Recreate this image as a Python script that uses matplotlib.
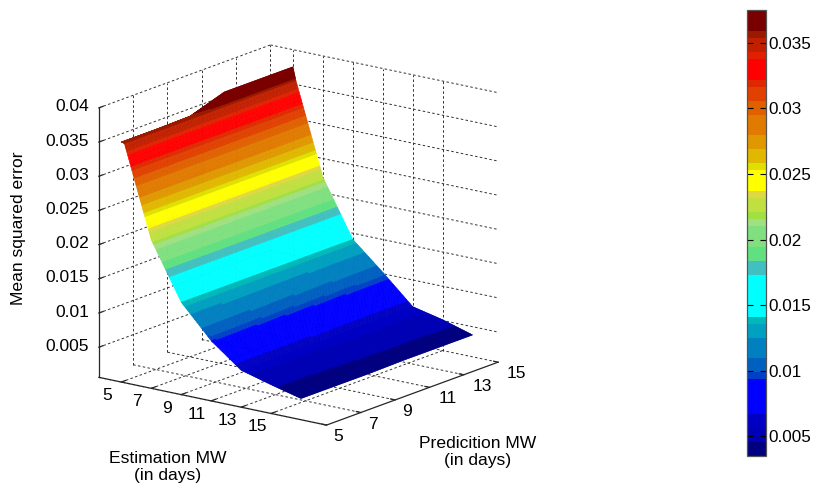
import numpy as np
import matplotlib
matplotlib.use("Agg")
import matplotlib.pyplot as plt
from matplotlib.cm import ScalarMappable
from matplotlib.colors import ListedColormap, Normalize
from mpl_toolkits.mplot3d import proj3d

plt.rcParams["font.family"] = ["Liberation Sans", "DejaVu Sans"]

# ---------------------------------------------------------------------------
# DATA
# ---------------------------------------------------------------------------
# 5.2 is an extra mesh row, the kink on the top edge only touches the first band
estimation_mw = [5, 5.2, 7, 9, 11, 13, 15, 17]
prediction_mw = [5, 7, 9, 11, 13, 15]

# one row per estimation window, one column per prediction window
mse = [
    [0.0357, 0.0357, 0.0358, 0.0375, 0.0375, 0.0375],
    [0.0356, 0.0356, 0.0356, 0.0356, 0.0356, 0.0356],
    [0.0223, 0.0223, 0.0223, 0.0223, 0.0223, 0.0223],
    [0.0141, 0.0141, 0.0141, 0.0141, 0.0141, 0.0141],
    [0.0094, 0.0095, 0.0097, 0.0099, 0.0101, 0.0102],
    [0.0060, 0.0060, 0.0060, 0.0061, 0.0061, 0.0061],
    [0.0048, 0.0048, 0.0049, 0.0050, 0.0050, 0.0051],
    [0.0037, 0.0037, 0.0037, 0.0038, 0.0038, 0.0038],
]

x_ticks = [5, 7, 9, 11, 13, 15]
y_ticks = [5, 7, 9, 11, 13, 15]
z_ticks = [0.005, 0.01, 0.015, 0.02, 0.025, 0.03, 0.035, 0.04]
z_tick_labels = ["0.005", "0.01", "0.015", "0.02", "0.025", "0.03", "0.035", "0.04"]
cbar_ticks = [0.005, 0.01, 0.015, 0.02, 0.025, 0.03, 0.035]
cbar_tick_labels = ["0.005", "0.01", "0.015", "0.02", "0.025", "0.03", "0.035"]

# colormap runs from the bottom of the colorbar up: (colour, number of entries of 64)
cmap_runs = [
    ("#000080", 2), ("#0000b4", 2), ("#0000c4", 2), ("#0000ff", 5), ("#0040c8", 1),
    ("#0060c0", 2), ("#0080c0", 3), ("#00a0c0", 2), ("#00b8b8", 1), ("#00ffff", 6),
    ("#40c0c0", 2), ("#60e080", 2), ("#80e080", 3), ("#a0e080", 1), ("#a0e040", 1),
    ("#c0e040", 2), ("#e0d840", 1), ("#ffff00", 3), ("#e0e000", 1), ("#e0b800", 2),
    ("#e09800", 2), ("#e07a00", 3), ("#e06000", 2), ("#e04000", 2), ("#e02800", 1),
    ("#ff0000", 3), ("#e02000", 1), ("#c02000", 2), ("#9a1a00", 1), ("#7a0000", 3),
]

X_LIM = (3.5, 18.7)
Y_LIM = (5, 15)
Z_LIM = (0.0006, 0.04)
C_LIM = (0.0035, 0.0375)
TICK_SIZE = 12.5
TITLE_SIZE = 12.6
AXIS_COLOR = "#262626"

# ---------------------------------------------------------------------------
# FIGURE + 3D AXES
# ---------------------------------------------------------------------------
W, H = 814, 488
fig = plt.figure(figsize=(W / 100, H / 100), dpi=100, facecolor="white")
ax = fig.add_axes([52 / W, 6.5 / H, 480 / W, 480 / H], projection="3d",
                  proj_type="ortho", computed_zorder=False)
ax.view_init(elev=16.1, azim=-52.9)
ax.set_box_aspect((287, 286, 282), zoom=0.993)
ax.set_xlim(*X_LIM)
ax.set_ylim(*Y_LIM)
ax.set_zlim(*Z_LIM)
ax.set_axis_off()
proj = ax.get_proj()


def label_at(x, y, z, text, dx, dy, ha):
    # tick label placed in pixels from the projected tick, dy is downwards
    px, py_, _ = proj3d.proj_transform(x, y, z, proj)
    ax.annotate(text, xy=(px, py_), xycoords="data", xytext=(dx, -dy),
                textcoords="offset pixels", fontsize=TICK_SIZE, ha=ha, va="center",
                color="black", annotation_clip=False)


# ---------------------------------------------------------------------------
# GRID (floor + two back walls)
# ---------------------------------------------------------------------------
grid_style = dict(color="#333333", linewidth=0.7, linestyle=(0, (2.6, 2.4)), zorder=1)
x0, x1 = X_LIM
y0, y1 = Y_LIM
z0, z1 = Z_LIM
for xt in x_ticks:
    ax.plot([xt, xt], [y0, y1], [z0, z0], **grid_style)
    ax.plot([xt, xt], [y1, y1], [z0, z1], **grid_style)
for yt in y_ticks:
    ax.plot([x0, x1], [yt, yt], [z0, z0], **grid_style)
    ax.plot([x0, x0], [yt, yt], [z0, z1], **grid_style)
for zt in z_ticks:
    ax.plot([x0, x0], [y0, y1], [zt, zt], **grid_style)
    ax.plot([x0, x1], [y1, y1], [zt, zt], **grid_style)

# ---------------------------------------------------------------------------
# SURFACE (flat colour bands, so the mesh is refined for drawing only)
# ---------------------------------------------------------------------------
colors = [c for c, n in cmap_runs for _ in range(n)]
cmap = ListedColormap(colors)
norm = Normalize(*C_LIM)

mse_arr = np.array(mse)
ex = np.array(estimation_mw, dtype=float)
py = np.array(prediction_mw, dtype=float)
ex_fine = np.unique(np.concatenate([np.linspace(a, b, 26) for a, b in zip(ex[:-1], ex[1:])]))
py_fine = np.linspace(py[0], py[-1], (len(py) - 1) * 25 + 1)
by_row = np.array([np.interp(py_fine, py, row) for row in mse_arr])
mse_fine = np.array([np.interp(ex_fine, ex, col) for col in by_row.T]).T

XX, YY = np.meshgrid(ex_fine, py_fine, indexing="ij")
cell = (mse_fine[:-1, :-1] + mse_fine[1:, :-1] + mse_fine[:-1, 1:] + mse_fine[1:, 1:]) / 4
face = cmap(norm(cell))
surf = ax.plot_surface(XX, YY, mse_fine, rstride=1, cstride=1, facecolors=face,
                       shade=False, linewidth=0.4, antialiased=True, zorder=2)
surf.set_edgecolors(face.reshape(-1, 4))

# ---------------------------------------------------------------------------
# AXIS LINES, TICKS, TICK LABELS
# ---------------------------------------------------------------------------
line_style = dict(color=AXIS_COLOR, linewidth=0.9, zorder=3)
ax.plot([x0, x0], [y0, y0], [z0, z1], **line_style)
ax.plot([x0, x1], [y0, y0], [z0, z0], **line_style)
ax.plot([x1, x1], [y0, y1], [z0, z0], **line_style)

for xt in x_ticks:
    ax.plot([xt, xt], [y0, y0 + 0.25], [z0, z0], **line_style)
    label_at(xt, y0, z0, str(xt), -14, 13.5, "center")
for yt in y_ticks:
    ax.plot([x1 - 0.3, x1], [yt, yt], [z0, z0], **line_style)
    label_at(x1, yt, z0, str(yt), 7 if yt < 10 else 9, 11.5, "left")
for zt, lab in zip(z_ticks, z_tick_labels):
    ax.plot([x0, x0], [y0, y0 + 0.25], [zt, zt], **line_style)
    label_at(x0, y0, zt, lab, -10, -1, "right")

# ---------------------------------------------------------------------------
# AXIS TITLES
# ---------------------------------------------------------------------------
fig.text(168 / W, 1 - 467 / H, "Estimation MW\n(in days)", fontsize=TITLE_SIZE,
         ha="center", va="center", linespacing=1.15)
fig.text(478 / W, 1 - 452 / H, "Predicition MW\n(in days)", fontsize=TITLE_SIZE,
         ha="center", va="center", linespacing=1.15)
fig.text(19 / W, 1 - 228 / H, "Mean squared error", fontsize=TITLE_SIZE,
         rotation=90, ha="center", va="center")

# ---------------------------------------------------------------------------
# COLORBAR
# ---------------------------------------------------------------------------
cax = fig.add_axes([747 / W, 1 - 456 / H, 19 / W, 446 / H])
cb = fig.colorbar(ScalarMappable(norm=norm, cmap=cmap), cax=cax)
cb.set_ticks(cbar_ticks, labels=cbar_tick_labels)
cb.ax.tick_params(axis="y", which="both", direction="in", left=True, right=True, length=4,
                  width=0.8, labelsize=12.3, pad=2, color="black")
cb.ax.minorticks_off()
cb.outline.set_edgecolor("#555555")
cb.outline.set_linewidth(0.9)

fig.savefig("out.png", dpi=100, facecolor="white")
